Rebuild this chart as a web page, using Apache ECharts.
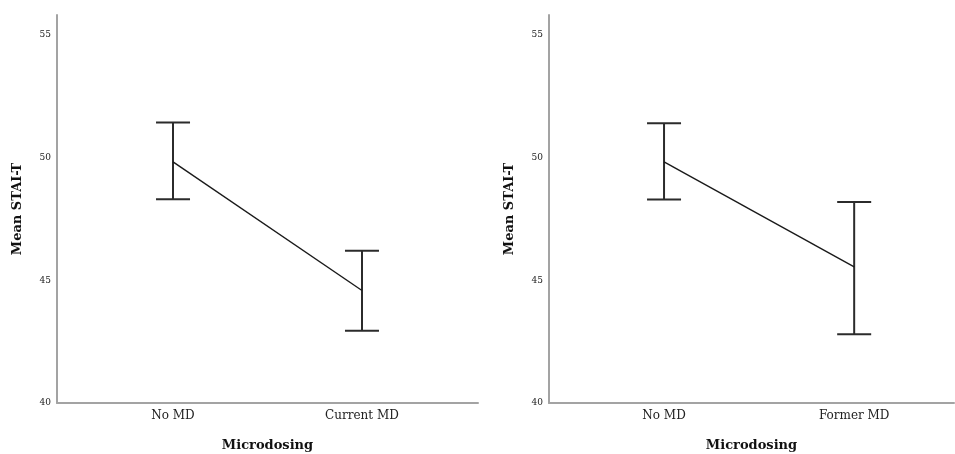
<!DOCTYPE html>
<html>
<head>
<meta charset="utf-8">
<style>
  html, body { margin: 0; padding: 0; background: #ffffff; }
  #chart { width: 955px; height: 454px; }
</style>
<script src="https://cdn.jsdelivr.net/npm/echarts@6/dist/echarts.min.js"></script>
</head>
<body>
<div id="chart"></div>
<script>
// categories for each panel
const leftCategories = ['No MD', 'Current MD'];
const rightCategories = ['No MD', 'Former MD'];

// means and 95% CI
const leftMeans = [49.82, 44.58];
const leftLower = [48.30, 42.94];
const leftUpper = [51.42, 46.20];

const rightMeans = [49.82, 45.54];
const rightLower = [48.29, 42.80];
const rightUpper = [51.39, 48.19];

const yTicks = [40, 45, 50, 55];

const fontFamily = '"DejaVu Serif", "Liberation Serif", serif';
const axisGray = '#a3a3a3';

const chart = echarts.init(document.getElementById('chart'));

// the right panel is cut off by the image edge, so its x range is shorter
const makeXAxis = (gridIndex, categories, xMin, xMax) => ({
    type: 'value',
    gridIndex: gridIndex,
    min: xMin,
    max: xMax,
    name: 'Microdosing',
    nameLocation: 'middle',
    nameGap: 36,
    nameTextStyle: { fontFamily: fontFamily, fontSize: 13, fontWeight: 'bold', color: '#111' },
    axisLine: { show: true, onZero: false, lineStyle: { color: axisGray, width: 2 } },
    axisTick: { show: false },
    splitLine: { show: false },
    axisLabel: {
        customValues: [0, 1],
        formatter: (v) => categories[Math.round(v)],
        fontFamily: fontFamily,
        fontSize: 12,
        color: '#222',
        margin: 7
    }
});

const makeYAxis = (gridIndex) => ({
    type: 'value',
    gridIndex: gridIndex,
    min: yTicks[0],
    max: 55.8,
    name: 'Mean STAI-T',
    nameLocation: 'middle',
    nameGap: 33,
    nameTextStyle: { fontFamily: fontFamily, fontSize: 13, fontWeight: 'bold', color: '#111' },
    axisLine: { show: true, onZero: false, lineStyle: { color: axisGray, width: 2 } },
    axisTick: { show: false },
    splitLine: { show: false },
    axisLabel: {
        customValues: yTicks,
        fontFamily: fontFamily,
        fontSize: 9,
        color: '#222',
        margin: 6
    }
});

const errorBars = (means, lower, upper) => means.map((m, i) => [i, lower[i], upper[i]]);

const renderErrorBar = (params, api) => {
    const x = api.value(0);
    const lo = api.coord([x, api.value(1)]);
    const hi = api.coord([x, api.value(2)]);
    const half = 17;
    const style = { stroke: '#2b2b2b', lineWidth: 2 };
    return {
        type: 'group',
        children: [
            { type: 'line', shape: { x1: hi[0], y1: hi[1], x2: lo[0], y2: lo[1] }, style: style },
            { type: 'line', shape: { x1: hi[0] - half, y1: hi[1], x2: hi[0] + half, y2: hi[1] }, style: style },
            { type: 'line', shape: { x1: lo[0] - half, y1: lo[1], x2: lo[0] + half, y2: lo[1] }, style: style }
        ]
    };
};

const option = {
    backgroundColor: '#ffffff',
    animation: false,
    grid: [
        { left: 57, right: 477, top: 15, bottom: 51, outerBoundsMode: 'none' },
        { left: 549, right: 1, top: 15, bottom: 51, outerBoundsMode: 'none' }
    ],
    xAxis: [
        makeXAxis(0, leftCategories, -0.614, 1.614),
        makeXAxis(1, rightCategories, -0.605, 1.525)
    ],
    yAxis: [makeYAxis(0), makeYAxis(1)],
    series: [
        {
            type: 'line',
            xAxisIndex: 0,
            yAxisIndex: 0,
            data: leftMeans.map((m, i) => [i, m]),
            showSymbol: false,
            lineStyle: { color: '#1a1a1a', width: 1.4 }
        },
        {
            type: 'custom',
            xAxisIndex: 0,
            yAxisIndex: 0,
            data: errorBars(leftMeans, leftLower, leftUpper),
            renderItem: renderErrorBar
        },
        {
            type: 'line',
            xAxisIndex: 1,
            yAxisIndex: 1,
            data: rightMeans.map((m, i) => [i, m]),
            showSymbol: false,
            lineStyle: { color: '#1a1a1a', width: 1.4 }
        },
        {
            type: 'custom',
            xAxisIndex: 1,
            yAxisIndex: 1,
            data: errorBars(rightMeans, rightLower, rightUpper),
            renderItem: renderErrorBar
        }
    ]
};

chart.setOption(option);
</script>
</body>
</html>
